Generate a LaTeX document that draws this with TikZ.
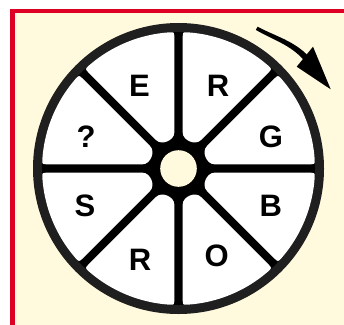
\documentclass[tikz,border=0pt]{standalone}
\usepackage{fontspec}
\setmainfont{Liberation Sans}
\definecolor{framered}{RGB}{222,0,36}
\definecolor{bgyellow}{RGB}{255,250,221}
\begin{document}
\begin{tikzpicture}[x=1pt,y=1pt,
  letter/.style={font=\fontsize{31}{33}\selectfont\bfseries, inner sep=0pt, text height=22.2pt, text depth=0pt},
  sectorfill/.style={fill=white}]
\useasboundingbox (0,0) rectangle (344,324);
\clip (0,0) rectangle (344,324);
\fill[white] (0,0) rectangle (344,324);
% frame
\fill[bgyellow] (12.5,-5) rectangle (350,312.8);
\draw[framered, line width=4.5pt] (12.5,-5) -- (12.5,312.8) -- (350,312.8);
% wheel
\coordinate (c) at (178.5,155.5);
\fill[black!88] (c) circle[radius=145.5pt];
\fill[black] (c) circle[radius=136.5pt];
\foreach \k in {0,...,7} {
  \path[sectorfill, shift={(c)}, rotate=22.5+45*\k]
    (34.87,9.90) -- (122.64,46.25) .. controls (127.66,48.33) .. (129.45,43.31)
    arc[start angle=18.5, end angle=-18.5, radius=136.5pt]
    .. controls (127.66,-48.33) .. (122.64,-46.25) -- (34.87,-9.90)
    .. controls (27.48,-6.84) and (27.48,6.84) .. (34.87,9.90) -- cycle;
}
\fill[bgyellow] (c) circle[radius=18.3pt];
% letters
\node[letter] (e)  at (139.5,239) {E};
\node[letter] (r1) at (218,239) {R};
\node[letter] (g)  at (270.8,187.3) {G};
\node[letter] (b)  at (270.7,119) {B};
\node[letter] (o)  at (216.7,68.2) {O};
\node[letter] (r2) at (140,65) {R};
\node[letter] (s)  at (85,119) {S};
\node[letter] (q)  at (86,187.3) {?};
% rotation arrow
\fill[black, line join=round] (257.59,297.27) .. controls (273.98,288.41) and (294.52,282.99) .. (308.4,267.8)
  -- (303.9,263.8) .. controls (290.48,279.41) and (271.82,284.59) .. (255.81,294.13) -- cycle;
\fill[black] (296.7,257.3) -- (313,277.3) -- (330.7,234.7) -- cycle;
\end{tikzpicture}
\end{document}
